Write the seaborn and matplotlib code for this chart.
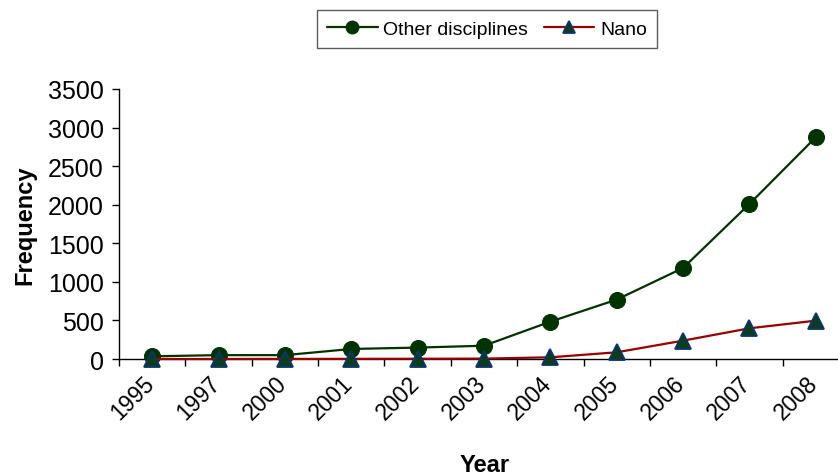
import matplotlib
matplotlib.use("Agg")
import matplotlib.pyplot as plt
import matplotlib.transforms as mtransforms
import seaborn as sns
import pandas as pd
from matplotlib.lines import Line2D

years = ["1995", "1997", "2000", "2001", "2002", "2003", "2004", "2005", "2006", "2007", "2008"]
other = [35, 50, 50, 130, 148, 172, 484, 770, 1180, 2010, 2875]
nano = [0, 0, 1, 2, 3, 5, 22, 87, 238, 398, 497]
y_ticks = [0, 500, 1000, 1500, 2000, 2500, 3000, 3500]

sns.set_theme(style="white")
plt.rcParams["font.family"] = ["Liberation Sans", "DejaVu Sans"]
plt.rcParams["text.color"] = "black"

fig = plt.figure(figsize=(8.38, 4.77), dpi=100)
W, H = 838, 477
ax = fig.add_axes([119 / W, 1 - 360 / H, 730 / W, 270 / H])

df_o = pd.DataFrame({"Year": years, "Frequency": other})
df_n = pd.DataFrame({"Year": years, "Frequency": nano})

green = "#003300"
red = "#990000"
tri_face = "#0b3d1c"
tri_edge = "#0a3570"

sns.lineplot(data=df_o, x="Year", y="Frequency", ax=ax, color=green, linewidth=1.6,
             marker="o", markersize=11.5, markerfacecolor=green, markeredgecolor=green,
             sort=False, zorder=3, clip_on=False)
sns.lineplot(data=df_n, x="Year", y="Frequency", ax=ax, color=red, linewidth=1.6,
             marker="^", markersize=11, markerfacecolor=tri_face, markeredgecolor=tri_edge,
             markeredgewidth=1.3, sort=False, zorder=4, clip_on=False)

n = len(years)
ax.set_xlim(-0.5, n - 0.5)
ax.set_ylim(0, 3500)
ax.set_yticks(y_ticks)
ax.set_yticklabels([str(v) for v in y_ticks], fontsize=18, color="black")

ax.set_xticks(range(n))
ax.set_xticklabels(years, fontsize=16.5, color="black", rotation=45,
                   ha="right", va="top", rotation_mode="anchor")
ax.set_xticks([i - 0.5 for i in range(n + 1)], minor=True)
ax.tick_params(axis="x", which="major", length=0, pad=9)
ax.tick_params(axis="x", which="minor", length=5, width=1, color="black", direction="out", bottom=True)
ax.tick_params(axis="y", which="major", length=5, width=1, color="black", direction="out", left=True, pad=6)

offset = mtransforms.ScaledTranslation(-10 / 100, 0, fig.dpi_scale_trans)
for lbl in ax.get_xticklabels():
    lbl.set_transform(lbl.get_transform() + offset)

for s in ["top", "right"]:
    ax.spines[s].set_visible(False)
for s in ["left", "bottom"]:
    ax.spines[s].set_color("black")
    ax.spines[s].set_linewidth(1.0)
ax.grid(False)

ax.set_xlabel("Year", fontsize=17, fontweight="bold", color="black")
ax.set_ylabel("Frequency", fontsize=17, fontweight="bold", color="black")
ax.xaxis.set_label_coords((485 - 119) / 730, -0.35)
ax.yaxis.set_label_coords((36 - 119) / 730, 0.5)

handles = [
    Line2D([0], [0], color=green, lw=1.6, marker="o", markersize=9,
           markerfacecolor=green, markeredgecolor=green),
    Line2D([0], [0], color=red, lw=1.6, marker="^", markersize=9,
           markerfacecolor=tri_face, markeredgecolor=tri_edge, markeredgewidth=1.3),
]
leg = fig.legend(handles, ["Other disciplines", "Nano"], loc="center",
                 bbox_to_anchor=(487 / W, 1 - 30 / H), ncol=2, fontsize=14,
                 frameon=True, fancybox=False, edgecolor="#333333",
                 handlelength=2.6, handletextpad=0.3, columnspacing=0.8,
                 borderpad=0.5, borderaxespad=0)
leg.get_frame().set_linewidth(1.0)
for t in leg.get_texts():
    t.set_color("black")

fig.savefig("out.png", dpi=100)
